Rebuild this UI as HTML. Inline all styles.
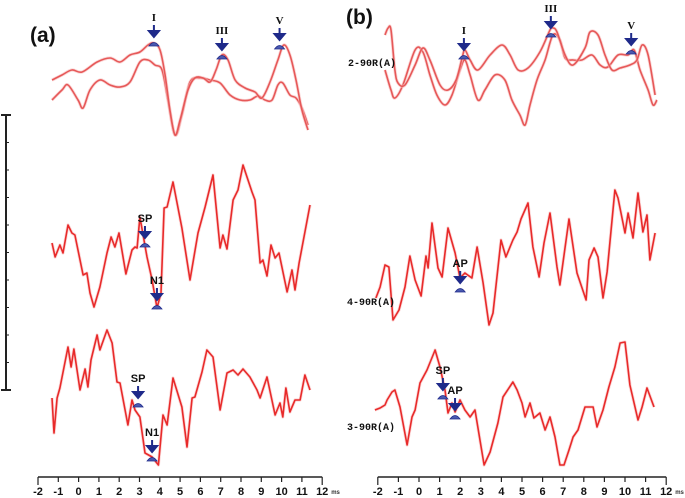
<!DOCTYPE html>
<html><head><meta charset="utf-8">
<style>
html,body{margin:0;padding:0;background:#fff;}
svg{display:block;font-family:"Liberation Sans",sans-serif;}
</style></head>
<body>
<svg id="chart" width="685" height="498" viewBox="0 0 685 498"></svg>
<script>
// ---- data (time in ms, amplitude in arbitrary units) ----
const aTopAT=[-1.31,-0.82,-0.33,0.17,0.91,1.55,2.04,2.53,3.02,3.42,3.71,4.01,4.26,4.50,4.75,5.00,5.39,5.73,6.13,6.48,6.77,7.06,7.36,7.71,8.20,8.69,9.03,9.43,9.82,10.11,10.41,10.71,11.00,11.30];
const aTopAV=[2,2.5,3,2.8,3.8,4.2,3.8,4.5,4.8,5.5,5.7,5,2.5,-1,-3.5,-2,1,2.2,2.2,1.8,3,4.5,4,2,1.2,0.8,0.2,1.8,4,5.5,4.5,2,-1,-3];
const aTopBT=[-1.31,-0.82,-0.52,-0.03,0.22,0.56,1.05,1.55,2.04,2.53,3.02,3.42,3.76,4.11,4.40,4.75,5.09,5.49,5.98,6.48,6.97,7.46,7.95,8.44,8.84,9.18,9.53,9.82,10.06,10.41,10.71,11.00,11.30];
const aTopBV=[0,1,1.5,0,-0.8,1,2,1.5,1.3,1.8,3.8,4,3.5,3,0,-3.5,-1.5,1.8,2.2,2,1.7,0.5,0,0,0.4,0,0,1.5,1.7,0.5,0.2,-0.8,-2.5];
const aMidT=[-1.31,-1.16,-0.92,-0.77,-0.52,-0.33,-0.18,0.22,0.41,0.56,0.76,1.05,1.40,1.60,1.79,1.99,2.33,2.63,2.78,2.88,3.02,3.37,3.62,3.86,4.06,4.21,4.36,4.65,5.09,5.49,5.88,6.23,6.62,6.97,7.11,7.31,7.61,7.85,8.10,8.54,8.69,8.94,9.08,9.28,9.48,9.68,9.87,10.27,10.51,10.66,10.86,11.40];
const aMidV=[0.7,-0.7,0.5,-0.3,2.5,1.7,1.5,-2.5,-2.3,-4.3,-5.7,-3.7,-0.3,1.3,0.3,1.7,-2.4,0,0.3,0.2,3.3,-0.7,-3,-5.8,-4.3,4.2,4.3,6.8,2.2,-3,1.7,4.3,7.5,0.2,1.5,0.1,5,6,8.5,5.8,5,-1.3,-1,-2.6,0.5,-0.8,-0.3,-4.2,-2,-4,-1.3,4.5];
const aBotT=[-1.31,-1.21,-1.06,-0.92,-0.52,-0.37,-0.23,0.07,0.32,0.46,0.61,0.91,1.05,1.40,1.65,1.89,2.04,2.43,2.63,2.78,3.02,3.27,3.62,3.93,4.16,4.36,4.65,5.09,5.34,5.59,5.73,6.08,6.32,6.62,6.97,7.31,7.61,7.85,8.10,8.44,8.79,8.94,9.28,9.68,9.92,10.06,10.21,10.41,10.66,10.91,11.15,11.40];
const aBotV=[0.2,-3.3,0.2,1.2,5.3,3.3,5.1,1,3.1,1.3,4,6.5,5,7,5.7,1.8,1.7,-2.5,0,-1,-1.7,-5.3,-5.7,-6.5,-1.5,-2.5,2.2,-0.7,-4.7,0.2,0.3,2.8,5,4.3,-1,2.7,3,2.5,3.1,2.3,1,0.2,2.3,-1.5,-0.3,-1.7,1.2,-1.2,0,0,2.5,1];
const bTopCT=[-1.65,-1.50,-1.36,-1.17,-1.02,-0.68,-0.19,0.19,0.53,1.02,1.41,1.80,2.09,2.23,2.48,2.86,3.45,4.03,4.42,4.81,5.29,5.87,6.36,6.50,6.70,7.09,7.48,8.06,8.30,8.69,9.03,9.37,9.76,10.24,10.58,10.83,11.12,11.46];
const bTopCV=[3.5,4.2,4,0,-1.3,-1.5,0.5,2.2,1,-1.5,-2,-1,1.2,2,1,0,1.5,2.5,1.5,0,0.2,1.8,4,4.2,3.8,1.5,0.5,2.2,3.8,3.5,1.5,0,0.2,0.5,1,2.5,1.5,-2.5];
const bTopDT=[-1.65,-1.36,-1.17,-0.78,-0.19,0.19,0.53,0.87,1.26,1.60,1.99,2.23,2.48,2.86,3.20,3.69,4.17,4.51,4.90,5.15,5.39,5.73,6.12,6.50,6.84,7.09,7.48,7.91,8.40,8.79,9.17,9.66,10.15,10.44,10.73,11.12,11.36,11.55];
const bTopDV=[0,-2,-2.8,-1.5,2,1.8,-0.5,-2.5,-3.5,-2.5,0,1,-0.5,-3,-2,-0.5,-1,-3,-4.5,-5.5,-3.5,-1,1,3.5,3,1.2,1,1,1.5,0.5,0.3,1.5,1.5,2,0,-2,-3.5,-3];
const bMidT=[-2.09,-1.89,-1.65,-1.46,-1.26,-0.97,-0.68,-0.44,-0.19,0.10,0.34,0.44,0.63,0.92,1.12,1.41,1.75,1.99,2.23,2.57,2.82,3.11,3.40,3.59,3.98,4.22,4.56,4.76,4.95,5.29,5.53,5.83,6.07,6.36,6.70,6.84,7.28,7.67,8.11,8.25,8.50,8.69,8.93,9.13,9.51,9.66,10.00,10.15,10.39,10.63,10.87,11.07,11.21,11.46];
const bMidV=[-2.8,-1.7,0.5,0.3,-5,-4,-1.7,1.4,-1,-2.6,1.4,0.2,4.7,0.2,-0.7,4.2,1.7,-0.8,-0.3,-0.8,2.3,-1.3,-5.5,-4.3,3,1.3,3,3.8,5.1,6.7,2.3,-0.7,2.7,5.7,0.3,-1.5,5.1,-0.3,-3,1,2.2,1.3,-2.8,-0.2,8,7.2,3.7,5.7,3.2,7.7,3.8,5.5,1,3.7];
const bBotT=[-2.14,-1.89,-1.65,-1.55,-1.31,-1.17,-0.92,-0.58,-0.34,-0.19,0.05,0.39,0.78,1.02,1.26,1.41,1.60,1.75,1.99,2.23,2.48,2.72,3.16,3.45,3.83,4.08,4.56,4.76,5.00,5.15,5.39,5.58,5.87,6.12,6.36,6.60,6.84,7.04,7.28,7.48,7.72,8.06,8.45,8.64,8.93,9.22,9.51,9.76,10.00,10.24,10.63,10.83,11.07,11.41];
const bBotV=[0,0.2,0.5,1,1.8,2,0.3,-3.5,-0.7,0,2.7,4,6,4.3,2,-0.3,0.7,-0.2,1,0,-0.7,0,-5.5,-4.2,-1.3,1.3,2.8,2,0.7,-0.7,0.7,-0.8,-0.3,-2,-0.7,-2.7,-5.5,-5.5,-4,-2.7,-2,0.3,0.3,-1.7,0,2.3,4.3,6.7,6.8,2.5,-1,0.3,2.2,0.3];
const tickLabels=["-2","-1","0","1","2","3","4","5","6","7","8","9","10","11","12"];
// markers: [time, amplitude-of-arrow-tip, label]
const aTopMarks=[[3.71,6.3,"I"],[7.06,5.0,"III"],[9.9,6.0,"V"]];
const bTopMarks=[[2.18,2.0,"I"],[6.4,4.2,"III"],[10.3,2.5,"V"]];
const aMidMarks=[[3.27,1.2,"SP"],[3.86,-5.0,"N1"]];
const aBotMarks=[[2.93,0.2,"SP"],[3.62,-5.2,"N1"]];
const bMidMarks=[[2.0,-1.3,"AP"]];
const bBotMarks=[[1.16,2.0,"SP"],[1.75,0.0,"AP"]];

const NS="http://www.w3.org/2000/svg";
const svg=document.getElementById('chart');
function mk(tag,attrs,parent){const e=document.createElementNS(NS,tag);for(const k in attrs)e.setAttribute(k,attrs[k]);(parent||svg).appendChild(e);return e;}
const panels={a:{x0:78.6,px:20.3},b:{x0:419,px:20.6}};
function xs(p,t){return panels[p].x0+panels[p].px*t;}
function ys(base,v){return base-v*10;}

function pathD(P,smooth){
  let d='M'+P[0][0].toFixed(1)+','+P[0][1].toFixed(1);
  for(let i=1;i<P.length;i++){
    if(!smooth){d+='L'+P[i][0].toFixed(1)+','+P[i][1].toFixed(1);continue;}
    const p0=P[i-2]||P[i-1],p1=P[i-1],p2=P[i],p3=P[i+1]||P[i];
    const c1=[p1[0]+(p2[0]-p0[0])/6,p1[1]+(p2[1]-p0[1])/6];
    const c2=[p2[0]-(p3[0]-p1[0])/6,p2[1]-(p3[1]-p1[1])/6];
    d+='C'+c1[0].toFixed(1)+','+c1[1].toFixed(1)+' '+c2[0].toFixed(1)+','+c2[1].toFixed(1)+' '+p2[0].toFixed(1)+','+p2[1].toFixed(1);
  }
  return d;
}
function trace(p,base,T,V,name,light){
  const P=T.map((t,i)=>[xs(p,t),ys(base,V[i])]);
  const d=pathD(P,!!light);
  const g=mk('path',{d:d,fill:'none',stroke:'#f8bcbc','stroke-width':3.2,'stroke-linejoin':'round',opacity:0.6});
  
  
  const e=mk('path',{d:d,fill:'none',stroke:light?'#e65858':'#e82a2a','stroke-width':1.6,'stroke-linejoin':'round'});
  
  
}
function marks(p,base,M,name,bold){
  M.forEach(m=>{
    const x=xs(p,m[0]),y=ys(base,m[1]);
    const g=mk('g',{});
    
    
    mk('path',{d:`M${x},${y-12}L${x},${y-3}M${x-5},${y-6}L${x},${y}L${x+5},${y-6}Z`,stroke:'#1f2a8a','stroke-width':2,fill:'#1f2a8a'},g);
    mk('path',{d:`M${x-5},${y+9}Q${x},${y+2} ${x+5},${y+9}Z`,fill:'#4a5ab0',stroke:'#1f2a8a','stroke-width':0.8},g);
    const t=mk('text',{x:x,y:y-16,'text-anchor':'middle','font-size':11,'font-weight':'bold','font-family':bold?'"Liberation Sans",sans-serif':'"Liberation Serif",serif',fill:'#111'},g);
    t.textContent=m[2];
  });
}
function axis(p,name){
  const g=mk('g',{});
  
  
  const x1=xs(p,-2),x2=xs(p,12);
  mk('line',{x1:x1,y1:477,x2:x2,y2:477,stroke:'#222','stroke-width':1.5},g);
  tickLabels.forEach((lab,i)=>{
    const t=Number(lab);const x=xs(p,t);
    mk('line',{x1:x,y1:477,x2:x,y2:(i===0||i===tickLabels.length-1)?485:482,stroke:'#222','stroke-width':1.2},g);
    const tx=mk('text',{x:x,y:495,'text-anchor':'middle','font-size':11,'font-weight':'bold',fill:'#111'},g);
    tx.textContent=lab;
  });
  const ms=mk('text',{x:x2+9,y:494,'font-size':6,'font-weight':'bold',fill:'#333'},g);
  ms.textContent='ms';
}

trace('a',100,aTopBT,aTopBV,'a-top-trace-2',true);
trace('a',100,aTopAT,aTopAV,'a-top-trace-1',true);
trace('a',250,aMidT,aMidV,'a-middle-trace');
trace('a',400,aBotT,aBotV,'a-bottom-trace');
trace('b',70,bTopDT,bTopDV,'b-top-trace-2',true);
trace('b',70,bTopCT,bTopCV,'b-top-trace-1',true);
trace('b',270,bMidT,bMidV,'b-middle-trace');
trace('b',410,bBotT,bBotV,'b-bottom-trace');
marks('a',100,aTopMarks,'a-top-marker',false);
marks('b',70,bTopMarks,'b-top-marker',false);
marks('a',250,aMidMarks,'a-mid-marker',true);
marks('a',400,aBotMarks,'a-bot-marker',true);
marks('b',270,bMidMarks,'b-mid-marker',true);
marks('b',410,bBotMarks,'b-bot-marker',true);
axis('a','a-x-axis');
axis('b','b-x-axis');

// scale bar
const sb=mk('g',{});


mk('line',{x1:6,y1:115,x2:6,y2:390,stroke:'#222','stroke-width':2},sb);
mk('line',{x1:1,y1:115,x2:11,y2:115,stroke:'#222','stroke-width':2},sb);
mk('line',{x1:1,y1:390,x2:11,y2:390,stroke:'#222','stroke-width':2},sb);
for(let i=1;i<10;i++){const y=115+i*27.5;mk('line',{x1:6,y1:y,x2:9,y2:y,stroke:'#222','stroke-width':1},sb);}

// panel labels and trace names
function txt(x,y,s,size,name,extra){const t=mk('text',Object.assign({x:x,y:y,'font-size':size,'font-weight':'bold',fill:'#111'},extra||{}));t.textContent=s;return t;}
txt(30,42,'(a)',21,'panel-a-label');
txt(346,24,'(b)',21,'panel-b-label');
txt(348,66,'2-90R(A)',10,'b-top-trace-name',{'font-family':'"Liberation Mono",monospace'});
txt(347,305,'4-90R(A)',10,'b-middle-trace-name',{'font-family':'"Liberation Mono",monospace'});
txt(347,430,'3-90R(A)',10,'b-bottom-trace-name',{'font-family':'"Liberation Mono",monospace'});
</script>
</body></html>
